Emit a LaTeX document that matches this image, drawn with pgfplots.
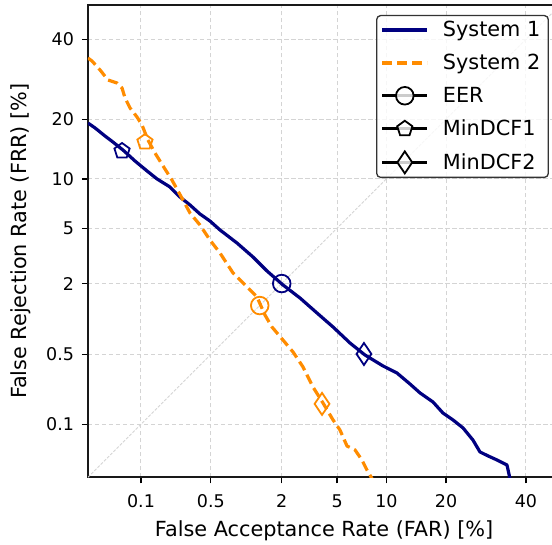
\documentclass[border=0pt]{standalone}
\usepackage{fontspec}
\setmainfont{DejaVu Sans}
\usepackage{pgfplots}
\pgfplotsset{compat=1.18}
\usepackage{pgfplotstable}
\usetikzlibrary{plotmarks}
\definecolor{sysone}{RGB}{0,0,128}
\definecolor{systwo}{RGB}{255,140,0}
\definecolor{gridgray}{RGB}{212,212,212}

% values in normal-deviate (probit) units
\pgfplotstableread{
far frr
-3.481 -0.870
-3.429 -0.906
-3.356 -0.965
-3.297 -1.010
-3.223 -1.069
-3.134 -1.150
-3.046 -1.223
-2.972 -1.282
-2.877 -1.341
-2.803 -1.415
-2.729 -1.474
-2.656 -1.540
-2.582 -1.592
-2.508 -1.658
-2.383 -1.754
-2.265 -1.857
-2.162 -1.960
-2.044 -2.063
-1.919 -2.159
-1.793 -2.270
-1.675 -2.373
-1.550 -2.491
-1.440 -2.579
-1.307 -2.660
-1.204 -2.712
-1.108 -2.793
-1.034 -2.859
-0.938 -2.926
-0.865 -3.007
-0.791 -3.058
-0.717 -3.117
-0.644 -3.206
-0.592 -3.294
-0.533 -3.323
-0.467 -3.353
-0.393 -3.390
-0.371 -3.490
}\sysonetab

\pgfplotstableread{
far frr
-3.481 -0.391
-3.451 -0.413
-3.392 -0.479
-3.333 -0.553
-3.267 -0.575
-3.230 -0.612
-3.208 -0.685
-3.171 -0.759
-3.120 -0.825
-3.083 -0.884
-3.039 -0.995
-2.987 -1.091
-2.928 -1.186
-2.862 -1.290
-2.781 -1.437
-2.729 -1.533
-2.656 -1.621
-2.582 -1.732
-2.508 -1.828
-2.412 -1.975
-2.309 -2.078
-2.235 -2.152
-2.177 -2.284
-2.125 -2.373
-2.044 -2.469
-1.970 -2.557
-1.896 -2.668
-1.823 -2.815
-1.749 -2.933
-1.675 -3.058
-1.624 -3.132
-1.572 -3.250
-1.513 -3.279
-1.462 -3.353
-1.425 -3.427
-1.388 -3.490
}\systwotab

\begin{document}
\begin{tikzpicture}
\begin{axis}[
  scale only axis, width=472.3pt, height=472.3pt,
  xmin=-3.4808, xmax=0, ymin=-3.4808, ymax=0,
  xtick={-3.0902,-2.5758,-2.0537,-1.6449,-1.2816,-0.8416,-0.2533},
  xticklabels={0.1,0.5,2,5,10,20,40},
  ytick={-3.0902,-2.5758,-2.0537,-1.6449,-1.2816,-0.8416,-0.2533},
  yticklabels={0.1,0.5,2,5,10,20,40},
  tick pos=left, tick align=outside, major tick length=6pt,
  every tick/.style={black, line width=1.3pt},
  grid=major,
  major grid style={gridgray, line width=1pt, dash pattern=on 4.5pt off 2.5pt},
  axis line style={line width=1.6pt, black!90},
  ticklabel style={font=\fontsize{17.5}{20}\selectfont},
  xticklabel style={yshift=-8pt},
  yticklabel style={xshift=-4.5pt},
  label style={font=\fontsize{20.8}{24}\selectfont},
  xlabel={False Acceptance Rate (FAR) [\%]},
  ylabel={False Rejection Rate (FRR) [\%]},
  xlabel style={at={(axis description cs:0.5,-0.1264)}, anchor=base},
  ylabel style={at={(axis description cs:-0.1292,0.5)}, anchor=base},
  legend style={at={(0.976,0.979)}, anchor=north east, draw=black!80,
    line width=1.3pt, rounded corners=4pt, fill=white, fill opacity=0.8,
    draw opacity=1, text opacity=1,
    font=\fontsize{20.8}{24}\selectfont,
    inner xsep=4pt, inner ysep=4pt, row sep=12pt, column sep=10pt,
    nodes={inner xsep=4pt, inner ysep=2pt}},
  legend cell align=left,
  legend image code/.code={\draw[sharp corners, mark repeat=2, mark phase=2] plot coordinates {(0pt,0pt) (22.5pt,0pt) (45pt,0pt)};},
]
\addplot[gridgray, line width=0.9pt, dash pattern=on 3pt off 1.5pt, forget plot] coordinates {(-3.4808,-3.4808) (0,0)};
\addplot[sysone, line width=3.2pt, line join=round] table[x=far, y=frr] {\sysonetab};
\addlegendentry{System 1}
\addplot[systwo, line width=3.2pt, line join=round, dash pattern=on 10pt off 5pt] table[x=far, y=frr] {\systwotab};
\addlegendentry{System 2}
% EER
\addplot[only marks, sysone, mark=o, mark size=8.8pt, mark options={solid, line width=1.8pt, sharp corners}, forget plot] coordinates {(-2.053,-2.053)};
\addplot[only marks, systwo, mark=o, mark size=8.8pt, mark options={solid, line width=1.8pt, sharp corners}, forget plot] coordinates {(-2.215,-2.215)};
% MinDCF1
\addplot[only marks, sysone, mark=pentagon, mark size=8pt, mark options={solid, line width=1.8pt, sharp corners}, forget plot] coordinates {(-3.230,-1.076)};
\addplot[only marks, systwo, mark=pentagon, mark size=8pt, mark options={solid, line width=1.8pt, sharp corners}, forget plot] coordinates {(-3.061,-1.010)};
% MinDCF2
\addplot[only marks, sysone, mark=diamond, mark size=11pt, mark options={solid, line width=1.8pt, sharp corners, xscale=0.9}, forget plot] coordinates {(-1.447,-2.572)};
\addplot[only marks, systwo, mark=diamond, mark size=11pt, mark options={solid, line width=1.8pt, sharp corners, xscale=0.9}, forget plot] coordinates {(-1.756,-2.940)};
\addlegendimage{black, line width=3pt, mark=*, mark size=8.8pt, mark options={solid, line width=1.8pt, fill=white, sharp corners}}
\addlegendentry{EER}
\addlegendimage{black, line width=3pt, mark=pentagon*, mark size=8pt, mark options={solid, line width=1.8pt, fill=white, sharp corners}}
\addlegendentry{MinDCF1}
\addlegendimage{black, line width=3pt, mark=diamond*, mark size=11pt, mark options={solid, line width=1.8pt, fill=white, sharp corners, xscale=0.9}}
\addlegendentry{MinDCF2}
\end{axis}
\pgfresetboundingbox
\path ([shift={(-88pt,-67.7pt)}]current axis.south west) rectangle ([shift={(464pt,477.3pt)}]current axis.south west);
\end{tikzpicture}
\end{document}
